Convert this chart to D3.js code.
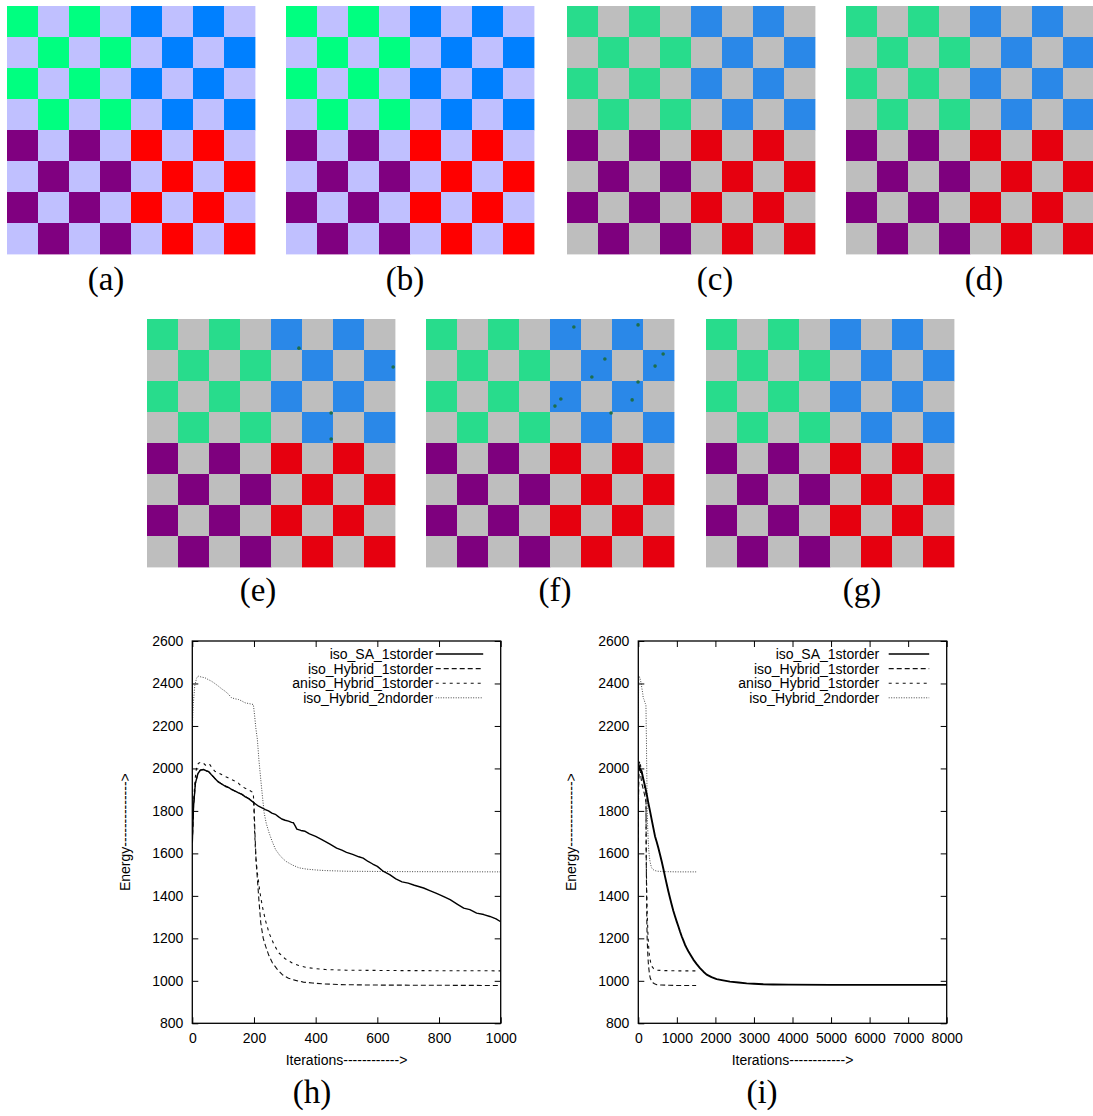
<!DOCTYPE html>
<html>
<head>
<meta charset="utf-8">
<script src="https://cdn.jsdelivr.net/npm/d3@7"></script>
<style>
body { margin: 0; background: #fff; }
svg { display: block; }
</style>
</head>
<body>
<svg id="fig" width="1093" height="1116"></svg>
<script>
// boards (a)-(g): 8x8 checkerboards, coloured cell when (row+col) is even
const boardLabels = ['(a)', '(b)', '(c)', '(d)', '(e)', '(f)', '(g)']
const boardPalette = ['lavender', 'lavender', 'gray', 'gray', 'gray', 'gray', 'gray']

// misclassified pixels, in cell units [col, row]
const dotsE = [[4.90, 0.94], [7.94, 1.55], [5.94, 3.03], [5.94, 3.87]]
const dotsF = [[4.77, 0.26], [6.84, 0.19], [5.77, 1.29], [7.65, 1.13], [7.39, 1.52],
               [5.35, 1.87], [6.84, 2.03], [4.35, 2.58], [4.16, 2.81], [6.65, 2.61], [5.97, 3.03]]

// energy curves [iteration, energy]
const saShort = [[0,1650],[4,1820],[10,1930],[18,1975],[26,1992],[36,1995],[46,1988],[53,1985],[62,1970],
  [70,1958],[75,1950],[85,1935],[96,1926],[108,1915],[118,1910],[128,1900],[139,1893],[150,1885],[161,1878],
  [172,1866],[183,1858],[194,1845],[204,1834],[215,1822],[226,1814],[237,1806],[247,1800],[258,1790],
  [269,1784],[280,1772],[290,1762],[301,1756],[312,1752],[322,1746],[328,1744],[334,1728],[339,1714],
  [352,1708],[366,1704],[380,1692],[400,1680],[420,1665],[445,1645],[468,1625],[485,1615],[500,1605],
  [520,1595],[540,1584],[554,1578],[570,1562],[585,1550],[600,1539],[620,1515],[640,1500],[660,1480],
  [680,1466],[700,1460],[720,1450],[750,1437],[770,1425],[790,1413],[810,1400],[836,1382],[860,1360],
  [880,1342],[900,1335],[922,1319],[945,1312],[965,1303],[985,1292],[1000,1278]]

const saLong = [[0,2023],[40,2000],[86,1987],[130,1950],[173,1917],[217,1880],[260,1838],[303,1800],
  [346,1760],[390,1720],[433,1681],[476,1655],[519,1626],[563,1595],[606,1563],[650,1528],[692,1492],
  [735,1457],[779,1422],[822,1390],[865,1359],[908,1330],[952,1304],[995,1280],[1038,1257],[1082,1232],
  [1125,1210],[1168,1190],[1211,1170],[1255,1154],[1298,1139],[1360,1120],[1428,1100],[1510,1080],
  [1600,1060],[1690,1043],[1773,1029],[1900,1017],[2032,1008],[2200,1002],[2378,996],[2600,992],
  [2811,988],[3000,986],[3243,984],[3500,983],[3900,982],[5000,981],[8000,981]]

const isoHybrid1 = [[0,1650],[4,1820],[10,1930],[18,1975],[26,1992],[36,1995],[53,1985],[75,1950],
  [96,1926],[118,1910],[139,1893],[161,1878],[183,1858],[200,1840],[203,1700],[207,1560],[211,1480],
  [216,1380],[222,1273],[230,1200],[238,1162],[248,1120],[260,1084],[275,1055],[292,1029],[312,1012],
  [335,1002],[360,994],[389,990],[420,986],[480,982],[600,980],[800,979],[1000,978],[1500,978]]

const anisoHybrid1 = [[0,1660],[4,1850],[10,1960],[15,2016],[22,2026],[30,2030],[38,2022],[46,2011],
  [57,2018],[65,2000],[73,1987],[84,1980],[95,1971],[105,1963],[116,1956],[127,1948],[138,1940],
  [150,1930],[159,1916],[170,1908],[181,1901],[190,1893],[198,1885],[202,1700],[206,1580],[211,1508],
  [219,1420],[227,1351],[238,1280],[249,1225],[265,1170],[281,1131],[300,1105],[324,1084],[345,1072],
  [367,1064],[400,1057],[432,1053],[500,1050],[700,1048],[1000,1047],[1500,1047]]

const isoHybrid2 = [[0,2190],[3,2300],[8,2390],[14,2425],[19,2435],[30,2430],[41,2427],[52,2418],
  [62,2411],[73,2400],[84,2388],[95,2375],[106,2364],[117,2350],[127,2333],[138,2328],[149,2325],
  [160,2318],[171,2309],[185,2305],[198,2301],[202,2250],[206,2190],[211,2137],[216,2040],[222,1948],
  [228,1860],[233,1791],[240,1740],[249,1697],[258,1660],[270,1618],[285,1588],[303,1563],[325,1545],
  [346,1532],[370,1526],[400,1522],[432,1519],[500,1516],[700,1514],[1000,1513],[1500,1513]]

const seriesNames = ['iso_SA_1storder', 'iso_Hybrid_1storder', 'aniso_Hybrid_1storder', 'iso_Hybrid_2ndorder']
const yTicks = [800, 1000, 1200, 1400, 1600, 1800, 2000, 2200, 2400, 2600]
const xTicksH = [0, 200, 400, 600, 800, 1000]
const xTicksI = [0, 1000, 2000, 3000, 4000, 5000, 6000, 7000, 8000]

// ---- styles / layout ----
const palettes = {
  lavender: {light: '#c0c0ff', tl: '#00ff80', tr: '#0080ff', bl: '#800080', br: '#ff0000'},
  gray:     {light: '#bebebe', tl: '#28dc8c', tr: '#2a88e8', bl: '#7e007e', br: '#e6000f'}
}
const boardPos = [[7,6],[286,6],[567,6],[846,6],[147,319],[426,319],[706,319]]
const labelPos = [[106,290],[405,290],[715,290],[984,290],[258,601],[555,601],[862,601]]
const boardSize = 248
const lineStyles = [
  {stroke: '#000', width: 1.5, dash: null},
  {stroke: '#111', width: 1.1, dash: '5,3'},
  {stroke: '#111', width: 1.1, dash: '3,4'},
  {stroke: '#444', width: 1, dash: '1,1.5'}
]
const sansFont = '"Liberation Sans", Arial, Helvetica, sans-serif'
const serifFont = '"Liberation Serif", "Times New Roman", serif'

const svg = d3.select('#fig')

let drawBoard = (i, dots) => {
  let [ox, oy] = boardPos[i]
  let pal = palettes[boardPalette[i]]
  let g = svg.append('g').attr('transform', 'translate(' + ox + ',' + oy + ')')
  let band = d3.scaleBand().domain(d3.range(8)).range([0, boardSize])
  let cells = d3.cross(d3.range(8), d3.range(8)).map(([r, c]) => ({r, c}))
  let quad = d => (d.r < 4 ? 't' : 'b') + (d.c < 4 ? 'l' : 'r')

  g.selectAll('rect')
    .data(cells)
    .join('rect')
      .attr('x', d => band(d.c))
      .attr('y', d => band(d.r))
      .attr('width', band.bandwidth() + 0.4)
      .attr('height', band.bandwidth() + 0.4)
      .attr('fill', d => (d.r + d.c) % 2 ? pal.light : pal[quad(d)])

  if (dots) {
    let pos = d3.scaleLinear().domain([0, 8]).range([0, boardSize])
    g.selectAll('circle')
      .data(dots)
      .join('circle')
        .attr('cx', d => pos(d[0]))
        .attr('cy', d => pos(d[1]))
        .attr('r', 1.8)
        .attr('fill', '#1d6e4c')
  }

  svg.append('text')
    .attr('x', labelPos[i][0]).attr('y', labelPos[i][1])
    .attr('text-anchor', 'middle')
    .style('font-family', serifFont).style('font-size', '33px')
    .text(boardLabels[i])
}

for (let i = 0; i < boardLabels.length; i++) {
  drawBoard(i, i == 4 ? dotsE : i == 5 ? dotsF : null)
}

let drawPlot = (left, xMax, xTicks, series, label, labelX, legendStart, saWidth) => {
  let top = 641, bottom = 1023.3, width = 308.4
  let right = left + width
  let x = d3.scaleLinear().domain([0, xMax]).range([left, right])
  let y = d3.scaleLinear().domain([800, 2600]).range([bottom, top])
  let g = svg.append('g')

  let clipId = 'clip' + Math.round(left)
  g.append('clipPath').attr('id', clipId)
    .append('rect').attr('x', left).attr('y', top).attr('width', width).attr('height', bottom - top)

  let line = d3.line().x(d => x(d[0])).y(d => y(d[1]))
  // draw in reverse so the solid SA line sits on top
  for (let k = series.length - 1; k >= 0; k--) {
    let st = lineStyles[k]
    g.append('path')
      .datum(series[k].filter(d => d[0] <= xMax))
      .attr('clip-path', 'url(#' + clipId + ')')
      .attr('d', line)
      .attr('fill', 'none')
      .attr('stroke', st.stroke)
      .attr('stroke-width', k == 0 ? saWidth : st.width)
      .attr('stroke-dasharray', st.dash)
      .attr('stroke-linejoin', 'round')
  }

  let styleAxis = a => {
    a.select('.domain').remove()
    a.selectAll('line').attr('stroke', '#000').attr('stroke-width', 1)
    a.selectAll('text').style('font-family', sansFont).style('font-size', '14px').attr('fill', '#000')
  }
  g.append('g').attr('transform', 'translate(' + left + ',0)')
    .call(d3.axisLeft(y).tickValues(yTicks).tickSize(-6).tickPadding(9).tickFormat(d3.format('d'))).call(styleAxis)
  g.append('g').attr('transform', 'translate(' + right + ',0)')
    .call(d3.axisRight(y).tickValues(yTicks).tickSize(-6).tickFormat('')).call(styleAxis)
  g.append('g').attr('transform', 'translate(0,' + bottom + ')')
    .call(d3.axisBottom(x).tickValues(xTicks).tickSize(-6).tickPadding(10).tickFormat(d3.format('d'))).call(styleAxis)
  g.append('g').attr('transform', 'translate(0,' + top + ')')
    .call(d3.axisTop(x).tickValues(xTicks).tickSize(-6).tickFormat('')).call(styleAxis)

  g.append('rect')
    .attr('x', left).attr('y', top).attr('width', width).attr('height', bottom - top)
    .attr('fill', 'none').attr('stroke', '#000').attr('stroke-width', 1.3)

  // legend
  let legendY = [654, 668.6, 683.2, 697.8]
  seriesNames.forEach((name, k) => {
    let st = lineStyles[k]
    g.append('text')
      .attr('x', right - 67.5).attr('y', legendY[k] + 5)
      .attr('text-anchor', 'end')
      .style('font-family', sansFont).style('font-size', '14px')
      .text(name)
    g.append('line')
      .attr('x1', right - legendStart).attr('x2', right - 17.5)
      .attr('y1', legendY[k]).attr('y2', legendY[k])
      .attr('stroke', st.stroke).attr('stroke-width', st.width)
      .attr('stroke-dasharray', st.dash)
  })

  // axis titles
  g.append('text')
    .attr('x', (left + right) / 2).attr('y', 1065)
    .attr('text-anchor', 'middle')
    .style('font-family', sansFont).style('font-size', '14px')
    .text('Iterations------------>')
  g.append('text')
    .attr('transform', 'translate(' + (left - 62.5) + ',' + (top + bottom) / 2 + ') rotate(-90)')
    .attr('text-anchor', 'middle')
    .style('font-family', sansFont).style('font-size', '14px')
    .text('Energy-------------->')

  svg.append('text')
    .attr('x', labelX).attr('y', 1103)
    .attr('text-anchor', 'middle')
    .style('font-family', serifFont).style('font-size', '33px')
    .text(label)
}

drawPlot(192.3, 1000, xTicksH, [saShort, isoHybrid1, anisoHybrid1, isoHybrid2], '(h)', 312, 65, 1.4)
drawPlot(638.3, 8000, xTicksI, [saLong, isoHybrid1, anisoHybrid1, isoHybrid2], '(i)', 762, 58, 1.9)
</script>
</body>
</html>
